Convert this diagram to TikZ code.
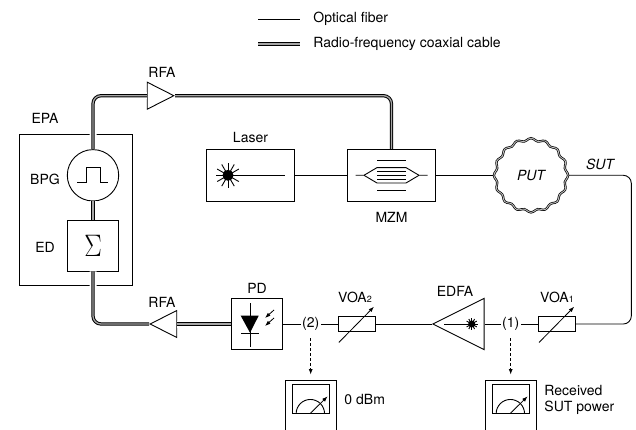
\documentclass[tikz,border=0pt]{standalone}
\usepackage{fontspec}
\setmainfont{TeX Gyre Heros}
\usetikzlibrary{shapes.geometric,arrows.meta}
\newcommand{\burst}[3]{\fill (#1) circle (#2); \foreach \a in {0,30,...,330} \draw[line width=.9pt] (#1) -- ++(\a:#3);}
\begin{document}
\begin{tikzpicture}[x=1pt, y=-1pt, node distance=100pt, >={Latex[length=5.5pt,width=4pt]}, line width=.9pt,
    lbl/.style={inner sep=0pt, font=\fontsize{14}{16}\selectfont},
    box/.style={draw, rectangle, fill=white, inner sep=0pt},
    amp/.style={draw, isosceles triangle, isosceles triangle stretches, fill=white, inner sep=0pt, anchor=apex},
    meter/.style={box, minimum width=51.4pt, minimum height=60pt},
    face/.style={box, minimum width=37pt, minimum height=28.4pt},
    voa/.style={box, minimum width=37pt, minimum height=15pt},
    tap/.style={lbl, inner sep=1pt},
    cable/.style={double=black!35, double distance=1.3pt, line width=1pt},
    coax/.style={cable, rounded corners=8pt, preaction={draw=white, line width=7pt}},
    tune/.style={->, line width=.8pt},
    probe/.style={->, line width=.8pt, dash pattern=on 3pt off 2pt, shorten <=6pt, shorten >=5pt}]
        \clip (0,0) rectangle (636,430);
        \fill[white] (0,0) rectangle (636,430);

        \coordinate (fiberA) at (258,19);
        \coordinate (fiberB) at (300,19);
        \coordinate (coaxA) at (258,44);
        \coordinate (coaxB) at (300,44);
        \draw (fiberA) -- (fiberB);
        \draw[cable] (coaxA) -- (coaxB);
        \node[lbl, anchor=west] (fibertext) at (313,19) {Optical fiber};
        \node[lbl, anchor=west] (coaxtext) at (313,44) {Radio-frequency coaxial cable};

        \node[box, minimum width=113pt, minimum height=151pt] (epa) at (75.5,210.2) {};
        \node[draw, circle, fill=white, minimum size=51.4pt, inner sep=0pt] (bpg) at (93,175.3) {};
        \node[box, minimum width=51.6pt, minimum height=51pt] (ed) at (93,245.5) {\fontsize{24}{24}\selectfont\scalebox{1.05}[1.25]{$\Sigma$}};
        \node[box, minimum width=87.6pt, minimum height=52pt] (laser) at (250.5,175.3) {};
        \node[box, minimum width=88.4pt, minimum height=52pt, right of=laser, xshift=41pt] (mzm) {};
        \node[circle, minimum size=74pt, inner sep=0pt, right of=mzm, xshift=39.5pt] (put) {\itshape\fontsize{14}{16}\selectfont PUT};
        \coordinate (bend) at (631.3,250);

        \node[amp, shape border rotate=0, minimum height=26.6pt, minimum width=27pt] (rfaup) at (175,95.7) {};
        \node[amp, shape border rotate=180, minimum height=26.6pt, minimum width=27pt] (rfadown) at (149,324) {};
        \node[box, minimum width=51.6pt, minimum height=51pt] (pd) at (257,324) {};
        \node[tap] (tapB) at (310.7,324) {(2)};
        \node[voa] (voaB) at (357,324) {};
        \node[amp, shape border rotate=180, minimum height=51.3pt, minimum width=51.3pt] (edfa) at (431.7,324) {};
        \node[tap] (tapA) at (510.7,324) {(1)};
        \node[voa] (voaA) at (557.2,324) {};
        \node[meter] (meterB) at (311,410) {};
        \node[meter, right of=meterB, xshift=100pt] (meterA) {};
        \node[face] (faceB) at (310.8,399) {};
        \node[face, right of=faceB, xshift=100pt] (faceA) {};

        \draw[coax] (bpg.north) |- (rfaup.west);
        \draw[coax] (rfaup.apex) -| (mzm.north);
        \draw[coax] (bpg.south) -- (ed.north);
        \draw[coax] (ed.south) |- (rfadown.apex);
        \draw[coax] (rfadown.east) -- (pd.west);
        \draw (laser.east) -- (mzm.west);
        \draw (mzm.east) -- (put.west);
        \draw[rounded corners=8pt] (put.east) -| (bend) |- (voaA.east);
        \draw (voaA.west) -- (tapA.east);
        \draw (tapA.west) -- (edfa.east);
        \draw (edfa.apex) -- (voaB.east);
        \draw (voaB.west) -- (tapB.east);
        \draw (tapB.west) -- (pd.east);
        \draw[probe] (tapB.south) -- (meterB.north -| tapB.south);
        \draw[probe] (tapA.south) -- (meterA.north -| tapA.south);

        \begin{scope}[shift={(bpg.center)}]
            \draw (-15.7,7.4) -- (-7,7.4) -- (-7,-7.6) -- (7,-7.6) -- (7,7.4) -- (15.3,7.4);
        \end{scope}
        \begin{scope}[shift={(laser.center)}]
            \coordinate (laserstar) at (-22.5,0);
            \burst{laserstar}{5.5pt}{12.5pt}
            \draw (laserstar) -- (34.5,0);
        \end{scope}
        \begin{scope}[shift={(mzm.center)}]
            \draw[line width=1.1pt] (-14.5,-15.2) -- (14.5,-15.2);
            \draw[line width=1.1pt] (-14.5,15.2) -- (14.5,15.2);
            \draw[line width=1.1pt] (-14.5,-4) -- (14.5,-4);
            \draw[line width=1.1pt] (-14.5,0) -- (14.5,0);
            \draw[line width=1.1pt] (-14.5,4) -- (14.5,4);
            \draw (-36,0) -- (-27.5,0) -- (-14.5,-7.7) -- (14.5,-7.7) -- (27.5,0) -- (36,0);
            \draw (-27.5,0) -- (-14.5,7.7) -- (14.5,7.7) -- (27.5,0);
        \end{scope}
        \begin{scope}[shift={(put.center)}]
            \draw[double=black!25, double distance=.9pt, line width=.7pt] plot[smooth cycle, samples=96, domain=0:356.25] (\x:{35.8+1.3*cos(16*\x)});
        \end{scope}
        \begin{scope}[shift={(pd.center)}]
            \draw (-7,-20.7) -- (-7,22.7);
            \fill (-16.3,-8.3) -- (1.7,-8.3) -- (-7,8.7) -- cycle;
            \draw (-16,9) -- (1.7,9);
            \draw[tune] (17,-14) -- (8,-6);
            \draw[tune] (17,-6) -- (8,2);
        \end{scope}
        \begin{scope}[shift={(edfa.apex)}]
            \coordinate (edfastar) at (40,0);
            \draw (12.3,0) -- (edfastar);
            \burst{edfastar}{3.5pt}{5.8pt}
        \end{scope}
        \draw[tune] ([xshift=-18.2pt,yshift=-18.5pt]voaA.center) -- ([xshift=17pt,yshift=17.3pt]voaA.center);
        \draw[tune] ([xshift=-18.2pt,yshift=-18.5pt]voaB.center) -- ([xshift=17pt,yshift=17.3pt]voaB.center);
        \foreach \f in {faceA,faceB} {
            \draw ([xshift=4.3pt]\f.south west) arc[start angle=180, end angle=0, radius=14.2pt];
            \draw[tune] ([xshift=-0.8pt]\f.south) -- ([xshift=16.8pt,yshift=17.3pt]\f.south);
        }

        \node[lbl] (rfauptext) at (162,72.7) {RFA};
        \node[lbl] (epatext) at (45,118) {EPA};
        \node[lbl] (bpgtext) at (45,179) {BPG};
        \node[lbl] (edtext) at (45,247) {ED};
        \node[lbl, above of=laser, node distance=38pt] (lasertext) {Laser};
        \node[lbl, below of=mzm, node distance=42pt] (mzmtext) {MZM};
        \node[lbl, font=\itshape\fontsize{14}{16}\selectfont] (suttext) at (600,164) {SUT};
        \node[lbl, above of=pd, node distance=36pt] (pdtext) {PD};
        \node[lbl] (rfadowntext) at (162,302) {RFA};
        \node[lbl] (voaBtext) at (355,297.5) {VOA{\fontsize{9}{9}\selectfont 2}};
        \node[lbl] (edfatext) at (455,291) {EDFA};
        \node[lbl] (voaAtext) at (557,297.5) {VOA{\fontsize{9}{9}\selectfont 1}};
        \node[lbl, anchor=west] (dbmtext) at (344,399) {0 dBm};
        \node[lbl, anchor=west, align=left] (powertext) at (544,399.5) {Received\\SUT power};
\end{tikzpicture}
\end{document}
